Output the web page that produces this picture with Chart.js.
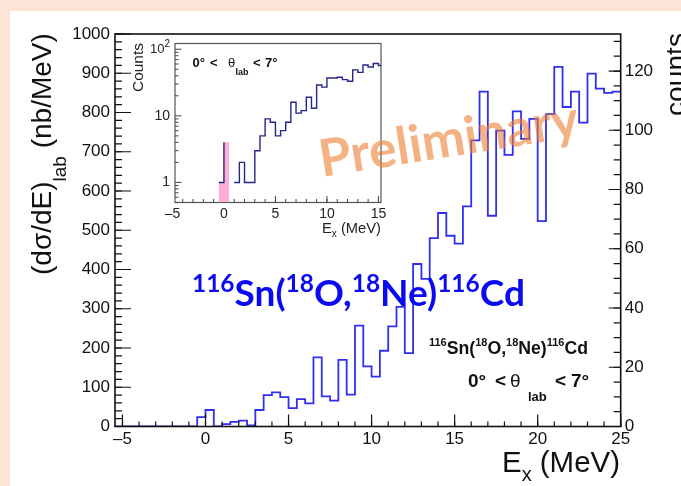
<!DOCTYPE html>
<html>
<head>
<meta charset="utf-8">
<script src="https://cdn.jsdelivr.net/npm/chart.js@4.4.1/dist/chart.umd.min.js"></script>
<style>
  html, body { margin: 0; padding: 0; background: #fbe5d6; }
  #wrap { position: relative; width: 681px; height: 486px; overflow: hidden; }
  #panel { position: absolute; left: 10px; top: 11px; right: 0; bottom: 0; background: #fff; }
  canvas { position: absolute; left: 0; top: 0; }
</style>
</head>
<body>
<div id="wrap">
  <div id="panel"></div>
  <canvas id="inset" width="681" height="486"></canvas>
  <canvas id="main" width="681" height="486"></canvas>
</div>
<script>
// ---- data ----
const binWidth = 0.5;          // MeV, both histograms
const mainStart = -5.5;        // lower edge of first bin of the main histogram
const mainValues = [           // (dσ/dE)lab in nb/MeV
  0, 0, 0, 0, 0, 0, 0, 0, 0, 0,
  24, 42, 0, 6, 12, 15, 3, 42, 80, 87,
  75, 47, 70, 59, 176, 77, 66, 170, 81, 257,
  153, 127, 193, 255, 305, 187, 414, 376, 480, 544,
  486, 466, 561, 729, 853, 537, 754, 692, 803, 733,
  784, 523, 796, 916, 814, 853, 774, 899, 861, 850,
  853
];
const insetStart = -5;         // lower edge of first bin of the inset
const insetValues = [          // counts, log scale
  0, 0, 0, 0, 0, 0, 0, 0, 0,
  1, 4, 0, 1, 2, 1, 1, 3, 5, 9,
  8, 5, 6, 8, 16, 11, 12, 19, 13, 29,
  27, 37, 37, 38, 35, 33, 49, 45, 58, 54,
  61, 57
];
const shadeFrom = -0.5, shadeTo = 0.5;   // ground-state bins filled pink in the inset

const xTicks = [-5, 0, 5, 10, 15, 20, 25];
const yTicks = [0, 100, 200, 300, 400, 500, 600, 700, 800, 900, 1000];
const countTicks = [0, 20, 40, 60, 80, 100, 120];
const insetXTicks = [-5, 0, 5, 10, 15];
const insetYTicks = [1, 10, 100];
const insetYLabels = ['1', '10', '10|2'];

// ---- helpers ----
const ROOT_FONT = '"Liberation Sans", Arial, Helvetica, sans-serif';
const SLIDE_FONT = 'Lato, "Open Sans", sans-serif';

function histPoints(start, values) {
  const pts = [{ x: start, y: 0 }];
  values.forEach((v, i) => pts.push({ x: start + i * binWidth, y: v }));
  pts.push({ x: start + values.length * binWidth, y: values[values.length - 1] });
  return pts;
}

function steps(from, to, step) {
  const out = [];
  const n = Math.round((to - from) / step);
  for (let i = 0; i <= n; i++) out.push(+(from + i * step).toFixed(6));
  return out;
}

function logMinor(min, max) {
  const out = [];
  for (let e = -1; e <= 2; e++) {
    for (let m = 2; m <= 9; m++) {
      const v = m * Math.pow(10, e);
      if (v >= min && v <= max) out.push(v);
    }
  }
  return out;
}

function marks(ctx, scale, values, base, len) {
  ctx.beginPath();
  values.forEach(v => {
    const p = scale.getPixelForValue(v);
    if (scale.isHorizontal()) { ctx.moveTo(p, base); ctx.lineTo(p, base + len); }
    else { ctx.moveTo(base, p); ctx.lineTo(base + len, p); }
  });
  ctx.stroke();
}

function fontFor(f, role) {
  const s = role ? f.size * f.small : f.size;
  return `${f.weight} ${s}px ${f.family}`;
}
function richWidth(ctx, parts, f) {
  let w = 0;
  parts.forEach(([t, r]) => { ctx.font = fontFor(f, r); w += ctx.measureText(t).width; });
  return w;
}
function drawRich(ctx, parts, f, x, y) {
  parts.forEach(([t, r]) => {
    ctx.font = fontFor(f, r);
    const dy = r === 'sup' ? -f.size * f.up : r === 'sub' ? f.size * f.down : 0;
    ctx.fillText(t, x, y + dy);
    x += ctx.measureText(t).width;
  });
}
// scale the font so the text spans the given width
function fitRich(ctx, parts, f, width) {
  const w = richWidth(ctx, parts, f);
  return Object.assign({}, f, { size: f.size * width / w });
}

const numFmt = v => (v < 0 ? '\u2013' + Math.abs(v) : String(v));

// ---- main plot decorations (ROOT style frame, ticks, titles) ----
const mainDecor = {
  id: 'mainDecor',
  afterDatasetsDraw(chart) {
    const { ctx, chartArea: a, scales: { x, y, y1 } } = chart;
    ctx.save();
    ctx.strokeStyle = '#111';
    ctx.lineWidth = 1.6;
    ctx.strokeRect(a.left, a.top, a.right - a.left, a.bottom - a.top);
    ctx.lineWidth = 1.2;
    marks(ctx, x, steps(-5, 25, 1), a.bottom, -5);
    marks(ctx, x, xTicks, a.bottom, -12);
    marks(ctx, y, steps(0, 1000, 20), a.left, 7);
    marks(ctx, y, yTicks, a.left, 16);
    marks(ctx, y1, steps(0, 130, 5), a.right, -7);
    marks(ctx, y1, countTicks, a.right, -12);
    ctx.restore();
  },
  afterDraw(chart) {
    const ctx = chart.ctx;
    ctx.save();
    ctx.textAlign = 'left';
    ctx.textBaseline = 'alphabetic';
    ctx.fillStyle = '#111';

    // y title
    let f = { family: ROOT_FONT, weight: 'normal', size: 27, small: 0.68, down: 0.55 };
    let parts = [['(d\u03c3/dE)', ''], ['lab', 'sub'], [' (nb/MeV)', '']];
    f = fitRich(ctx, parts, f, 242);
    ctx.save();
    ctx.translate(51, 275);
    ctx.rotate(-Math.PI / 2);
    drawRich(ctx, parts, f, 0, 0);
    ctx.restore();

    // x title
    f = { family: ROOT_FONT, weight: 'normal', size: 27, small: 0.68, down: 0.3 };
    parts = [['E', ''], ['x', 'sub'], [' (MeV)', '']];
    f = fitRich(ctx, parts, f, 118);
    drawRich(ctx, parts, f, 502, 472);

    // right title (cut by the slide edge)
    ctx.save();
    ctx.translate(685, 116);
    ctx.rotate(-Math.PI / 2);
    f = fitRich(ctx, [['counts', '']], { family: ROOT_FONT, weight: 'normal', size: 27 }, 83);
    ctx.font = fontFor(f, '');
    ctx.fillText('counts', 0, 0);
    ctx.restore();

    // reaction label (black)
    parts = [['116', 'sup'], ['Sn(', ''], ['18', 'sup'], ['O,', ''], ['18', 'sup'], ['Ne)', ''], ['116', 'sup'], ['Cd', '']];
    f = fitRich(ctx, parts, { family: ROOT_FONT, weight: 'bold', size: 16, small: 0.62, up: 0.45 }, 159);
    drawRich(ctx, parts, f, 429, 354);

    // angle label (black)
    const base = 387;
    ctx.font = `bold 19px ${ROOT_FONT}`;
    ctx.fillText('0\u00b0', 468, base);
    ctx.fillText('<', 495, base);
    ctx.font = `19px ${ROOT_FONT}`;
    ctx.fillText('\u03b8', 510, base);
    ctx.font = `bold 13px ${ROOT_FONT}`;
    ctx.fillText('lab', 528, 401);
    ctx.font = `bold 19px ${ROOT_FONT}`;
    ctx.fillText('<', 555, base);
    ctx.fillText('7\u00b0', 571, base);

    // big blue reaction label
    ctx.fillStyle = '#0a0af2';
    f = fitRich(ctx, parts, { family: SLIDE_FONT, weight: 'bold', size: 35, small: 0.66, up: 0.38 }, 333);
    drawRich(ctx, parts, f, 192, 306);

    // watermark
    ctx.save();
    ctx.translate(322, 177);
    ctx.rotate(-9 * Math.PI / 180);
    ctx.fillStyle = 'rgba(237, 125, 49, 0.6)';
    f = fitRich(ctx, [['Preliminary', '']], { family: SLIDE_FONT, weight: 'bold', size: 48 }, 262);
    ctx.font = fontFor(f, '');
    ctx.fillText('Preliminary', 0, 0);
    ctx.restore();

    ctx.restore();
  }
};

new Chart(document.getElementById('main'), {
  type: 'line',
  data: {
    datasets: [{
      data: histPoints(mainStart, mainValues),
      stepped: 'before',
      borderColor: '#2f2ff2',
      borderWidth: 1.8,
      pointRadius: 0,
      fill: false
    }]
  },
  options: {
    responsive: false,
    animation: false,
    events: [],
    layout: { padding: { top: 34, left: 0, right: 0, bottom: 0 } },
    plugins: { legend: { display: false }, tooltip: { enabled: false } },
    scales: {
      x: {
        type: 'linear', min: -5.45, max: 25,
        grid: { display: false, drawTicks: false }, border: { display: false },
        ticks: { font: { size: 17 }, color: '#111', padding: 3, maxRotation: 0, autoSkip: false, callback: numFmt },
        afterBuildTicks: s => { s.ticks = xTicks.map(v => ({ value: v })); },
        afterFit: s => { s.height = 59.5; }
      },
      y: {
        type: 'linear', position: 'left', min: 0, max: 1000,
        grid: { display: false, drawTicks: false }, border: { display: false },
        ticks: { font: { size: 17 }, color: '#111', padding: 5, autoSkip: false, callback: numFmt },
        afterBuildTicks: s => { s.ticks = yTicks.map(v => ({ value: v })); },
        afterFit: s => { s.width = 115; }
      },
      y1: {
        type: 'linear', position: 'right', min: 0, max: 132.5,
        grid: { display: false, drawTicks: false }, border: { display: false },
        ticks: { font: { size: 17 }, color: '#111', padding: 4, autoSkip: false, callback: numFmt },
        afterBuildTicks: s => { s.ticks = countTicks.map(v => ({ value: v })); },
        afterFit: s => { s.width = 60.3; }
      }
    }
  },
  plugins: [mainDecor]
});

// ---- inset ----
const insetDecor = {
  id: 'insetDecor',
  beforeDatasetsDraw(chart) {
    const { ctx, chartArea: a, scales: { x, y } } = chart;
    ctx.save();
    ctx.strokeStyle = '#555';
    ctx.lineWidth = 1.2;
    ctx.strokeRect(a.left, a.top, a.right - a.left, a.bottom - a.top);
    ctx.strokeStyle = '#444';
    ctx.lineWidth = 1;
    marks(ctx, x, steps(-4, 15, 1), a.bottom, -3.5);
    marks(ctx, x, insetXTicks.filter(v => v >= x.min), a.bottom, -6.5);
    marks(ctx, y, logMinor(y.min, y.max), a.left, 3.5);
    marks(ctx, y, insetYTicks, a.left, 6.5);
    ctx.restore();
  },
  afterDraw(chart) {
    const { ctx, chartArea: a, scales: { y } } = chart;
    ctx.save();
    ctx.fillStyle = '#222';
    ctx.textBaseline = 'middle';
    // log axis labels, 10^n written with a raised exponent
    insetYTicks.forEach((v, i) => {
      const py = y.getPixelForValue(v);
      const [m, e] = insetYLabels[i].split('|');
      let right = a.left - 5;
      ctx.textAlign = 'right';
      if (e) {
        ctx.font = `10px ${ROOT_FONT}`;
        ctx.fillText(e, right, py - 5);
        right -= ctx.measureText(e).width;
        ctx.font = `13px ${ROOT_FONT}`;
      } else {
        ctx.font = `14px ${ROOT_FONT}`;
      }
      ctx.fillText(m, right, py);
    });

    ctx.textAlign = 'left';
    ctx.textBaseline = 'alphabetic';
    // y title
    ctx.save();
    ctx.translate(142.5, 92);
    ctx.rotate(-Math.PI / 2);
    let f = fitRich(ctx, [['Counts', '']], { family: ROOT_FONT, weight: 'normal', size: 15 }, 49);
    ctx.font = fontFor(f, '');
    ctx.fillText('Counts', 0, 0);
    ctx.restore();
    // x title
    const parts = [['E', ''], ['x', 'sub'], [' (MeV)', '']];
    f = fitRich(ctx, parts, { family: ROOT_FONT, weight: 'normal', size: 15, small: 0.68, down: 0.3 }, 59);
    drawRich(ctx, parts, f, 322, 233);
    // angle label
    ctx.fillStyle = '#111';
    ctx.font = `bold 13px ${ROOT_FONT}`;
    ctx.fillText('0\u00b0', 192.5, 66.5);
    ctx.fillText('<', 210, 66.5);
    ctx.font = `13px ${ROOT_FONT}`;
    ctx.fillText('\u03b8', 228, 66.5);
    ctx.font = `bold 9px ${ROOT_FONT}`;
    ctx.fillText('lab', 235.5, 75);
    ctx.font = `bold 13px ${ROOT_FONT}`;
    ctx.fillText('<', 253, 66.5);
    ctx.fillText('7\u00b0', 265, 66.5);
    ctx.restore();
  }
};

const shadeIdx0 = Math.round((shadeFrom - insetStart) / binWidth);
const shadeIdx1 = Math.round((shadeTo - insetStart) / binWidth);

new Chart(document.getElementById('inset'), {
  type: 'line',
  data: {
    datasets: [{
      data: histPoints(insetStart, insetValues),
      stepped: 'before',
      borderColor: '#25258a',
      borderWidth: 1.4,
      pointRadius: 0,
      fill: false
    }, {
      data: histPoints(shadeFrom, insetValues.slice(shadeIdx0, shadeIdx1)),
      stepped: 'before',
      borderWidth: 0,
      pointRadius: 0,
      backgroundColor: '#ffadd2',
      fill: 'start'
    }]
  },
  options: {
    responsive: false,
    animation: false,
    events: [],
    layout: { padding: { top: 43.5, left: 0, right: 300, bottom: 0 } },
    plugins: { legend: { display: false }, tooltip: { enabled: false } },
    scales: {
      x: {
        type: 'linear', min: -4.75, max: 15.25,
        grid: { display: false, drawTicks: false }, border: { display: false },
        ticks: { font: { size: 14 }, color: '#222', padding: 3, maxRotation: 0, autoSkip: false, callback: numFmt },
        afterBuildTicks: s => { s.ticks = insetXTicks.map(v => ({ value: v })); },
        afterFit: s => { s.height = 283.5; }
      },
      y: {
        type: 'logarithmic', min: 0.5, max: 122,
        grid: { display: false, drawTicks: false }, border: { display: false },
        ticks: { display: false },
        afterBuildTicks: s => { s.ticks = insetYTicks.map(v => ({ value: v })); },
        afterFit: s => { s.width = 175; }
      }
    }
  },
  plugins: [insetDecor]
});
</script>
</body>
</html>
